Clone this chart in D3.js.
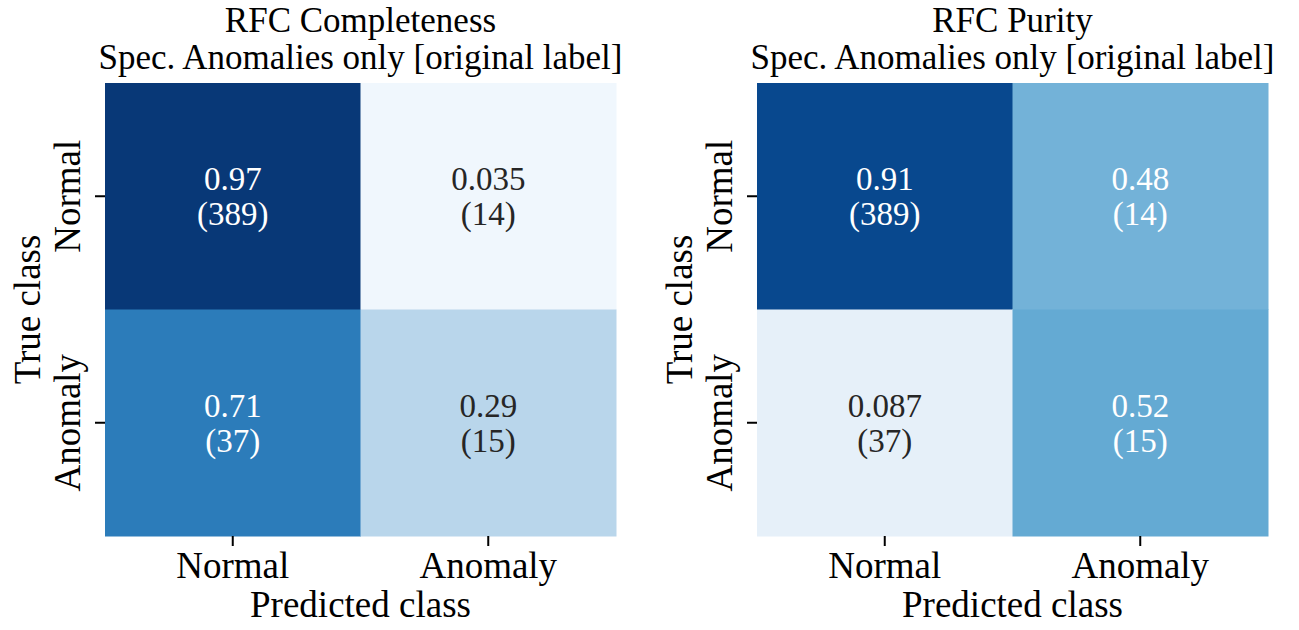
<!DOCTYPE html>
<html>
<head>
<meta charset="utf-8">
<script src="https://cdn.jsdelivr.net/npm/d3@7"></script>
<style>
  body { margin: 0; background: #fff; }
  text { font-family: "Liberation Serif", "DejaVu Serif", serif; }
</style>
</head>
<body>
<div id="chart"></div>
<script>
var classes = ["Normal", "Anomaly"];
var counts = [[389, 14], [37, 15]];
var completeness = [[0.97, 0.035], [0.71, 0.29]];
var purity = [[0.91, 0.48], [0.087, 0.52]];
var titles = [
  ["RFC Completeness", "Spec. Anomalies only [original label]"],
  ["RFC Purity", "Spec. Anomalies only [original label]"]
];
var xLabel = "Predicted class";
var yLabel = "True class";

var width = 1299, height = 630;
var titleSize = 35, labelSize = 37, annSize = 33;

// matplotlib Blues
var bluesStops = ["#f7fbff", "#deebf7", "#c6dbef", "#9ecae1", "#6baed6", "#4292c6", "#2171b5", "#08519c", "#08306b"];
var color = d3.scaleLinear()
  .domain(d3.range(9).map(function (i) { return i / 8; }))
  .range(bluesStops)
  .interpolate(d3.interpolateRgb)
  .clamp(true);

function luminance(c) {
  var rgb = d3.rgb(c);
  var lin = [rgb.r, rgb.g, rgb.b].map(function (v) {
    v = v / 255;
    return v <= 0.03928 ? v / 12.92 : Math.pow((v + 0.055) / 1.055, 2.4);
  });
  return 0.2126 * lin[0] + 0.7152 * lin[1] + 0.0722 * lin[2];
}

var fmt = d3.format(".2~g");

var svg = d3.select("#chart").append("svg")
  .attr("width", width)
  .attr("height", height);

var panels = [
  { left: 105, right: 616, values: completeness, title: titles[0] },
  { left: 757, right: 1268, values: purity, title: titles[1] }
];
var plotTop = 83, plotBottom = 536;

panels.forEach(function (p) {
  var g = svg.append("g");
  var x = d3.scaleBand().domain(classes).range([p.left, p.right]);
  var y = d3.scaleBand().domain(classes).range([plotTop, plotBottom]);

  var cells = [];
  for (var i = 0; i < classes.length; i++) {
    for (var j = 0; j < classes.length; j++) {
      cells.push({ row: classes[i], col: classes[j], value: p.values[i][j], count: counts[i][j] });
    }
  }

  g.selectAll("rect").data(cells).enter().append("rect")
    .attr("x", function (d) { return x(d.col); })
    .attr("y", function (d) { return y(d.row); })
    .attr("width", x.bandwidth() + 0.5)
    .attr("height", y.bandwidth() + 0.5)
    .attr("fill", function (d) { return color(d.value); });

  var ann = g.selectAll("text.ann").data(cells).enter().append("text")
    .attr("class", "ann")
    .attr("text-anchor", "middle")
    .style("font-size", annSize + "px")
    .attr("fill", function (d) { return luminance(color(d.value)) < 0.408 ? "#ffffff" : "#262626"; })
    .attr("transform", function (d) {
      return "translate(" + (x(d.col) + x.bandwidth() / 2) + "," + (y(d.row) + y.bandwidth() / 2) + ")";
    });
  ann.append("tspan").attr("x", 0).attr("y", -6).text(function (d) { return fmt(d.value); });
  ann.append("tspan").attr("x", 0).attr("y", 29).text(function (d) { return "(" + d.count + ")"; });

  // axes
  var xAxis = g.append("g")
    .attr("transform", "translate(0," + plotBottom + ")")
    .call(d3.axisBottom(x).tickSize(10).tickPadding(8));
  var yAxis = g.append("g")
    .attr("transform", "translate(" + p.left + ",0)")
    .call(d3.axisLeft(y).tickSize(10).tickPadding(8));
  [xAxis, yAxis].forEach(function (a) {
    a.select(".domain").remove();
    a.selectAll("line").attr("stroke", "#000").attr("stroke-width", 2);
    a.selectAll("text").style("font-size", labelSize + "px").attr("fill", "#000");
  });
  xAxis.selectAll("text").attr("dy", null).attr("y", 42);
  yAxis.selectAll("text")
    .attr("x", null).attr("dy", null)
    .attr("text-anchor", "middle")
    .attr("transform", "translate(-25,0) rotate(-90)")
    .attr("y", 0);

  var cx = (p.left + p.right) / 2;
  g.append("text")
    .attr("x", cx).attr("y", 617)
    .attr("text-anchor", "middle")
    .style("font-size", labelSize + "px")
    .text(xLabel);
  g.append("text")
    .attr("transform", "translate(" + (p.left - 65) + "," + ((plotTop + plotBottom) / 2) + ") rotate(-90)")
    .attr("text-anchor", "middle")
    .style("font-size", labelSize + "px")
    .text(yLabel);

  g.append("text")
    .attr("x", cx).attr("y", 32)
    .attr("text-anchor", "middle")
    .style("font-size", titleSize + "px")
    .text(p.title[0]);
  g.append("text")
    .attr("x", cx).attr("y", 69)
    .attr("text-anchor", "middle")
    .style("font-size", titleSize + "px")
    .text(p.title[1]);
});
</script>
</body>
</html>
